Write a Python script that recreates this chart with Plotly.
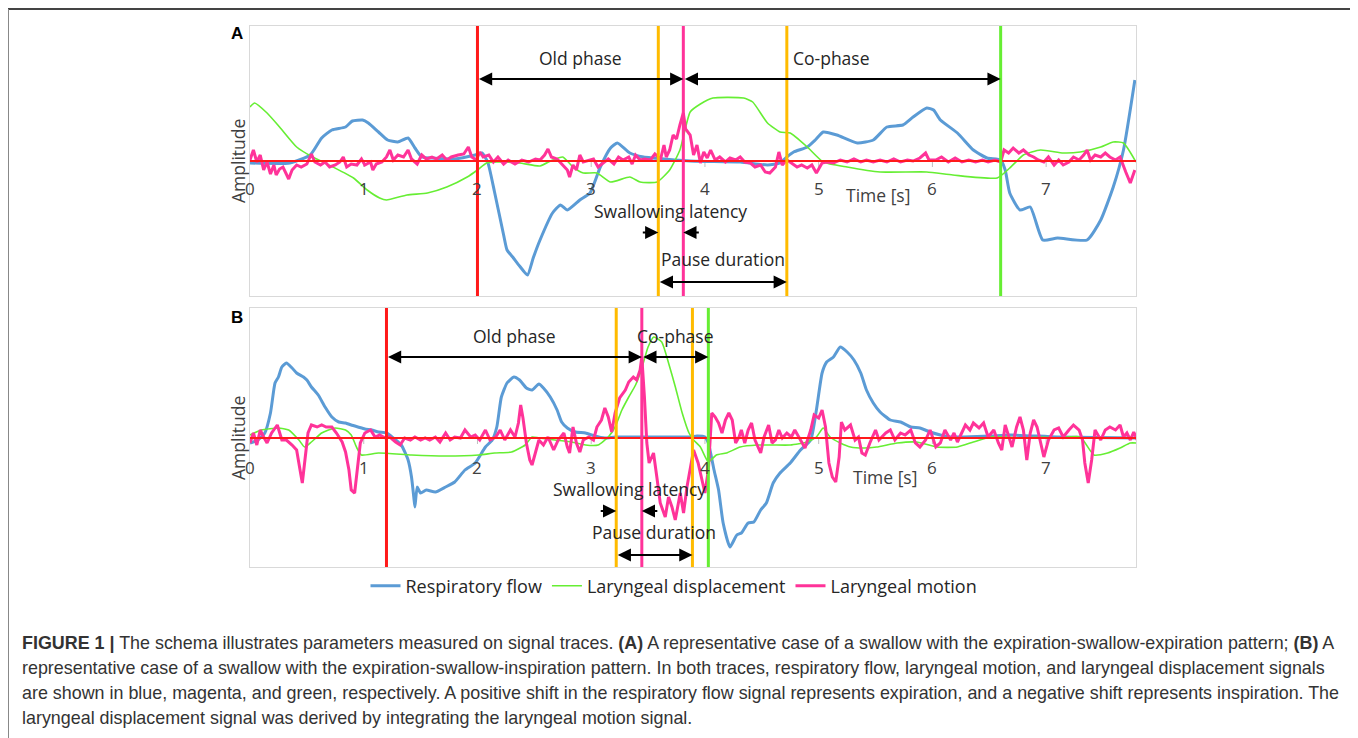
import plotly.graph_objects as go

# page body has an 8px margin, so the figure is 1350x730 placed at (8, 8)
OFF = 8
W, H = 1358 - OFF, 738 - OFF

# ---------------- DATA (time in s, amplitude in arbitrary units) ----------------
TICKS = [0, 1, 2, 3, 4, 5, 6, 7]

A_FLOW = [(0.00,-2),(0.35,-2),(0.53,6),(0.63,23),(0.72,31),(0.84,34),(0.90,40),(0.99,41),(1.04,38),
          (1.13,29),(1.21,21),(1.30,19),(1.39,23),(1.45,13),(1.51,4),(1.60,3),(1.80,2),(1.98,6),
          (2.04,8),(2.09,-1),(2.15,-31),(2.23,-74),(2.26,-89),(2.31,-96),(2.37,-105),(2.44,-114),
          (2.49,-97),(2.55,-79),(2.66,-52),(2.73,-44),(2.79,-49),(2.90,-39),(2.99,-32),(3.08,-6),
          (3.17,13),(3.23,18),(3.34,8),(3.46,4),(3.54,3),(3.87,0),(4.31,-1),(4.55,-4),(4.66,-2),
          (4.72,4),(4.78,9),(4.90,14),(4.97,21),(5.04,29),(5.16,26),(5.34,18),(5.48,21),(5.60,34),
          (5.74,36),(5.83,44),(5.95,53),(6.01,51),(6.07,41),(6.22,28),(6.36,11),(6.48,3),(6.60,1),
          (6.64,-9),(6.68,-32),(6.77,-49),(6.86,-46),(6.97,-79),(7.10,-77),(7.36,-79),(7.48,-59),
          (7.59,-26),(7.68,11),(7.78,81)]

A_DISP = [(0.00,54),(0.04,58),(0.15,48),(0.26,34),(0.41,14),(0.55,4),(0.73,-6),(0.91,-17),(1.03,-29),
          (1.14,-37),(1.20,-39),(1.38,-34),(1.56,-32),(1.73,-26),(1.91,-16),(2.00,-9),(2.08,-2),
          (2.17,-1),(2.37,-2),(2.55,-5),(2.66,1),(2.75,4),(2.84,-6),(2.93,-12),(3.05,-12),(3.17,-21),
          (3.34,-16),(3.43,-21),(3.58,-21),(3.69,-9),(3.78,11),(3.87,49),(3.96,57),(4.07,63),(4.34,63),
          (4.42,59),(4.55,38),(4.66,29),(4.75,28),(4.90,14),(5.04,-1),(5.25,-6),(5.54,-11),(5.95,-11),
          (6.18,-14),(6.57,-17),(6.68,-7),(6.80,6),(6.95,11),(7.15,8),(7.30,9),(7.48,14),(7.59,19),
          (7.68,18),(7.79,-1)]

A_MOTION = [(0.00,1),(0.03,11),(0.06,-1),(0.09,6),(0.12,-9),(0.15,-1),(0.18,-13),(0.21,-4),(0.23,-14),
            (0.26,-8),(0.29,-6),(0.34,-18),(0.37,-9),(0.41,-4),(0.45,-6),(0.50,-3),(0.54,7),(0.57,-1),
            (0.62,-4),(0.66,-1),(0.70,-6),(0.75,-4),(0.79,-1),(0.82,4),(0.85,-6),(0.89,-3),(0.94,-4),
            (0.98,2),(1.01,-4),(1.06,-1),(1.08,-9),(1.11,-3),(1.16,-1),(1.20,4),(1.23,11),(1.26,1),
            (1.30,6),(1.35,4),(1.39,11),(1.42,2),(1.47,-3),(1.51,6),(1.55,2),(1.60,4),(1.64,2),(1.69,6),
            (1.73,1),(1.77,4),(1.83,6),(1.88,7),(1.92,14),(1.95,4),(1.99,1),(2.02,9),(2.05,4),(2.10,6),
            (2.14,-1),(2.18,4),(2.23,-3),(2.27,1),(2.33,-3),(2.39,1),(2.45,-1),(2.51,2),(2.55,1),
            (2.59,6),(2.62,12),(2.65,4),(2.70,2),(2.74,-3),(2.79,-9),(2.81,-16),(2.84,-4),(2.87,-9),
            (2.90,6),(2.93,-1),(2.98,1),(3.02,2),(3.06,-6),(3.11,-1),(3.15,2),(3.20,-3),(3.24,4),
            (3.28,1),(3.33,4),(3.36,-3),(3.39,6),(3.43,1),(3.47,2),(3.52,1),(3.56,7),(3.61,2),(3.64,16),
            (3.66,4),(3.69,11),(3.72,26),(3.75,22),(3.78,36),(3.81,48),(3.83,32),(3.87,26),(3.90,6),
            (3.93,16),(3.96,-2),(3.99,9),(4.02,3),(4.05,11),(4.09,1),(4.13,4),(4.18,-1),(4.22,3),
            (4.27,1),(4.31,4),(4.35,-1),(4.40,-2),(4.44,-6),(4.49,-4),(4.53,-11),(4.57,-12),(4.62,-6),
            (4.65,9),(4.68,-4),(4.72,1),(4.76,-2),(4.81,-6),(4.85,-4),(4.90,-7),(4.94,-4),(4.98,-12),
            (5.03,-2),(5.07,-1),(5.13,-2),(5.19,1),(5.25,-1),(5.31,2),(5.37,-1),(5.42,1),(5.48,-1),
            (5.54,1),(5.60,-1),(5.66,2),(5.72,-1),(5.78,1),(5.83,0),(5.89,3),(5.94,8),(5.97,1),(6.03,1),
            (6.08,4),(6.14,-1),(6.20,3),(6.26,-1),(6.32,1),(6.38,-1),(6.44,1),(6.49,-1),(6.55,1),
            (6.60,-1),(6.63,11),(6.67,8),(6.71,13),(6.76,8),(6.80,11),(6.85,6),(6.89,4),(6.93,1),
            (6.98,-1),(7.02,4),(7.07,-4),(7.11,1),(7.15,-4),(7.20,-1),(7.24,4),(7.29,1),(7.33,6),
            (7.36,11),(7.39,1),(7.43,6),(7.48,4),(7.52,8),(7.56,4),(7.61,1),(7.65,4),(7.70,-11),
            (7.74,-22),(7.78,-9)]

B_FLOW = [(0.00,-5),(0.07,-2),(0.13,5),(0.18,25),(0.22,55),(0.25,61),(0.28,71),(0.32,75),(0.37,70),
          (0.41,65),(0.47,61),(0.50,58),(0.54,51),(0.60,43),(0.66,31),(0.72,21),(0.78,16),(0.84,15),
          (0.89,13),(0.95,11),(1.01,9),(1.07,8),(1.13,6),(1.20,5),(1.26,0),(1.33,-7),(1.39,-22),
          (1.42,-39),(1.44,-59),(1.45,-69),(1.47,-49),(1.50,-55),(1.55,-52),(1.63,-54),(1.72,-49),
          (1.80,-44),(1.89,-32),(1.98,-25),(2.07,-9),(2.13,-2),(2.17,11),(2.21,41),(2.26,55),
          (2.32,61),(2.37,58),(2.43,50),(2.48,48),(2.54,54),(2.58,50),(2.64,41),(2.70,28),(2.74,16),
          (2.79,10),(2.86,6),(2.95,5),(3.03,2),(3.12,0),(3.21,1),(3.50,1),(3.87,1),(3.93,2),(4.00,1),
          (4.03,-5),(4.08,-32),(4.12,-52),(4.16,-85),(4.22,-109),(4.28,-97),(4.32,-95),(4.38,-85),
          (4.43,-84),(4.49,-72),(4.54,-65),(4.60,-45),(4.66,-35),(4.75,-25),(4.84,-12),(4.93,-2),
          (4.98,28),(5.03,65),(5.07,76),(5.13,81),(5.19,91),(5.25,86),(5.31,78),(5.37,65),(5.42,48),
          (5.48,35),(5.54,26),(5.63,18),(5.72,16),(5.81,11),(5.89,10),(5.98,6),(6.07,3),(6.16,1),
          (6.27,1),(6.51,2),(6.69,3),(7.10,1),(7.79,0)]

B_DISP = [(0.00,3),(0.10,8),(0.25,10),(0.34,8),(0.43,-2),(0.48,-9),(0.54,-4),(0.63,5),(0.69,8),
          (0.75,10),(0.84,8),(0.89,3),(0.94,-10),(0.98,-17),(1.13,-15),(1.42,-17),(1.72,-18),
          (2.01,-17),(2.15,-15),(2.30,-14),(2.42,-7),(2.48,1),(2.54,0),(2.68,-2),(2.83,-4),(2.95,-7),
          (3.06,-7),(3.15,1),(3.21,11),(3.27,28),(3.33,41),(3.39,53),(3.44,68),(3.50,91),(3.55,101),
          (3.62,96),(3.68,75),(3.74,51),(3.80,25),(3.86,5),(3.90,-2),(3.96,-9),(4.03,-24),(4.10,-17),
          (4.19,-15),(4.31,-9),(4.46,-7),(4.60,-7),(4.75,-7),(4.90,-4),(4.98,1),(5.04,10),(5.10,1),
          (5.19,-5),(5.28,-9),(5.40,-10),(5.51,-9),(5.69,-5),(5.86,-4),(6.04,-9),(6.22,-9),(6.36,-4),
          (6.51,1),(6.66,1),(6.80,0),(6.95,1),(7.10,0),(7.30,1),(7.42,-17),(7.54,-15),(7.65,-10),
          (7.74,-5),(7.80,-5)]

B_MOTION = [(0.00,-5),(0.03,5),(0.06,-7),(0.09,8),(0.12,1),(0.15,-5),(0.19,5),(0.24,13),(0.28,-2),
            (0.32,-2),(0.37,-7),(0.41,-12),(0.44,-32),(0.46,-45),(0.48,-25),(0.51,5),(0.54,13),
            (0.59,11),(0.63,13),(0.67,11),(0.72,11),(0.76,5),(0.81,-4),(0.84,-14),(0.87,-32),
            (0.89,-52),(0.92,-55),(0.94,-35),(0.97,-5),(1.01,5),(1.06,8),(1.10,1),(1.14,3),(1.19,0),
            (1.23,1),(1.28,-4),(1.32,-7),(1.36,0),(1.41,-2),(1.45,1),(1.50,-2),(1.54,0),(1.58,-2),
            (1.63,1),(1.67,-4),(1.72,5),(1.76,-2),(1.80,1),(1.85,0),(1.89,8),(1.94,1),(1.98,3),
            (2.02,-2),(2.07,8),(2.11,-2),(2.16,1),(2.20,8),(2.24,-2),(2.29,8),(2.33,1),(2.36,15),
            (2.38,33),(2.40,20),(2.43,-5),(2.46,-22),(2.48,-27),(2.51,-15),(2.54,-2),(2.58,-7),
            (2.62,1),(2.67,-12),(2.71,-2),(2.76,5),(2.79,-9),(2.81,-15),(2.84,11),(2.87,-5),(2.90,-14),
            (2.93,-2),(2.98,1),(3.02,-2),(3.05,11),(3.09,18),(3.12,30),(3.15,21),(3.18,6),(3.21,25),
            (3.25,40),(3.30,48),(3.33,56),(3.37,61),(3.40,58),(3.43,68),(3.445,81),(3.468,41),
            (3.489,-5),(3.509,-25),(3.533,-18),(3.548,-15),(3.577,-39),(3.607,-65),(3.651,-79),
            (3.680,-59),(3.710,-69),(3.739,-82),(3.783,-55),(3.812,-75),(3.842,-49),(3.871,-29),
            (3.90,-12),(3.94,-25),(3.97,-39),(4.00,-55),(4.03,-32),(4.06,25),(4.09,21),(4.12,15),
            (4.15,5),(4.18,18),(4.21,25),(4.24,18),(4.27,-5),(4.30,1),(4.32,8),(4.35,-5),(4.38,8),
            (4.41,15),(4.44,-2),(4.49,-15),(4.52,1),(4.56,13),(4.59,-5),(4.62,-2),(4.65,8),(4.68,0),
            (4.72,5),(4.76,1),(4.79,8),(4.84,-2),(4.88,-10),(4.93,8),(4.96,23),(5.00,20),(5.03,28),
            (5.06,11),(5.09,-25),(5.12,-39),(5.15,-44),(5.18,-19),(5.20,16),(5.23,8),(5.28,13),
            (5.32,-2),(5.35,1),(5.38,-15),(5.41,-17),(5.45,-5),(5.50,8),(5.53,-2),(5.59,5),(5.63,8),
            (5.67,-2),(5.72,5),(5.76,3),(5.81,8),(5.85,-5),(5.89,-9),(5.94,-2),(5.98,8),(6.03,-9),
            (6.07,-5),(6.11,8),(6.16,-2),(6.19,5),(6.22,-4),(6.26,6),(6.29,13),(6.33,8),(6.36,15),
            (6.41,10),(6.45,15),(6.49,1),(6.54,8),(6.58,-5),(6.61,-12),(6.64,13),(6.67,1),(6.70,-9),
            (6.74,11),(6.77,21),(6.80,8),(6.83,-22),(6.86,5),(6.89,18),(6.92,11),(6.95,-5),(6.98,-19),
            (7.02,-2),(7.07,8),(7.11,10),(7.15,1),(7.20,8),(7.24,13),(7.29,8),(7.32,-2),(7.34,-25),
            (7.37,-45),(7.40,-22),(7.43,8),(7.48,-2),(7.52,8),(7.56,11),(7.61,8),(7.65,13),(7.68,1),
            (7.71,5),(7.74,-2),(7.77,6),(7.80,-2)]

# event times (s): onset of old phase, swallow (orange), peak motion (magenta), end pause (orange), end co-phase
A_EVENTS = [2.00, 3.59, 3.81, 4.72, 6.60]
B_EVENTS = [1.20, 3.22, 3.445, 3.89, 4.03]

SERIES_NAMES = ["Respiratory flow", "Laryngeal displacement", "Laryngeal motion"]
CAPTION = [
    "<b>FIGURE 1 |</b> The schema illustrates parameters measured on signal traces. <b>(A)</b> A representative case of a swallow with the expiration-swallow-expiration pattern; <b>(B)</b> A",
    "representative case of a swallow with the expiration-swallow-inspiration pattern. In both traces, respiratory flow, laryngeal motion, and laryngeal displacement signals",
    "are shown in blue, magenta, and green, respectively. A positive shift in the respiratory flow signal represents expiration, and a negative shift represents inspiration. The",
    "laryngeal displacement signal was derived by integrating the laryngeal motion signal.",
]

# ---------------- STYLE ----------------
BLUE, GREEN, PINK, RED, ORANGE = "#5b9bd5", "#66ee33", "#ff3399", "#ff1a1a", "#ffbb00"
EVENT_COLORS = [RED, ORANGE, PINK, ORANGE, GREEN]
TXT = "#262626"
FONT = "Open Sans"

def px(x):
    return (x - OFF) / W

def py(y):
    return 1 - (y - OFF) / H

fig = go.Figure()

def add_panel(flow, disp, motion, xa, ya, legend):
    for data, color, width, name, shape in [
        (flow, BLUE, 3, SERIES_NAMES[0], "spline"),
        (disp, GREEN, 1.6, SERIES_NAMES[1], "spline"),
        (motion, PINK, 3, SERIES_NAMES[2], "linear"),
    ]:
        t = [p[0] for p in data]
        a = [p[1] for p in data]
        fig.add_trace(go.Scatter(x=t, y=a, mode="lines", name=name, xaxis=xa, yaxis=ya,
                                 line=dict(color=color, width=width, shape=shape, smoothing=0.5),
                                 showlegend=legend, hoverinfo="skip"))

add_panel(A_FLOW, A_DISP, A_MOTION, "x", "y", True)
add_panel(B_FLOW, B_DISP, B_MOTION, "x2", "y2", False)

axis_common = dict(showgrid=False, zeroline=False, showticklabels=False, ticks="",
                   showline=True, mirror=True, linecolor="#d9d9d9", linewidth=1)
fig.update_layout(
    width=W, height=H, margin=dict(l=0, r=0, t=0, b=0),
    paper_bgcolor="white", plot_bgcolor="white",
    xaxis=dict(domain=[px(250), px(1136)], range=[0, 7.79], anchor="y", **axis_common),
    yaxis=dict(domain=[py(296), py(26)], range=[-135, 135], anchor="x", **axis_common),
    xaxis2=dict(domain=[px(250), px(1136)], range=[0, 7.79], anchor="y2", **axis_common),
    yaxis2=dict(domain=[py(567), py(308)], range=[-129, 130], anchor="x2", **axis_common),
    showlegend=True,
    legend=dict(orientation="h", x=px(674), xanchor="center", y=py(586), yanchor="middle",
                font=dict(family=FONT, size=18, color=TXT), bgcolor="rgba(0,0,0,0)",
                itemwidth=30, tracegroupgap=0),
)

shapes = []
annotations = []

for xa, ya, events, tshift, timepos in [("x", "y", A_EVENTS, -27, (878, -34)),
                                        ("x2", "y2", B_EVENTS, -29, (885, -39))]:
    # small gray tick marks on the zero axis (below the traces)
    for k in TICKS[1:]:
        shapes.append(dict(type="line", xref=xa, yref=ya, x0=k, x1=k, ysizemode="pixel", yanchor=0,
                           y0=0, y1=-6, line=dict(color="#bfbfbf", width=1), layer="below"))
    # zero line
    shapes.append(dict(type="line", xref=f"{xa} domain", yref=ya, x0=0, x1=1, y0=0, y1=0,
                       line=dict(color=RED, width=2), layer="above"))
    # event lines
    for t, c in zip(events, EVENT_COLORS):
        shapes.append(dict(type="line", xref=xa, yref=f"{ya} domain", x0=t, x1=t, y0=0, y1=1,
                           line=dict(color=c, width=3), layer="above"))
    # tick labels on the zero line
    for k in TICKS:
        annotations.append(dict(xref=xa, yref=ya, x=k, y=0, yshift=tshift, text=str(k),
                                showarrow=False, font=dict(family=FONT, size=17, color="#404040")))
    annotations.append(dict(xref="paper", yref=ya, x=px(timepos[0]), y=0, yshift=timepos[1],
                            xanchor="center", text="Time [s]", showarrow=False,
                            font=dict(family=FONT, size=17.5, color="#404040")))
    annotations.append(dict(xref="paper", yref=ya, x=px(238), y=0, xanchor="center", yanchor="middle",
                            text="Amplitude", textangle=-90, showarrow=False,
                            font=dict(family=FONT, size=17.5, color="#404040")))

def darrow(xa, ya, t0, t1, yv):
    annotations.append(dict(xref=xa, yref=ya, x=t1, y=yv, axref=xa, ayref=ya, ax=t0, ay=yv, text="",
                            showarrow=True, arrowside="end+start", arrowhead=2, startarrowhead=2,
                            arrowsize=1.2, startarrowsize=1.2, arrowwidth=2.2, arrowcolor="black",
                            standoff=0, startstandoff=0))

def sarrow(xa, ya, t, yv, dx):
    annotations.append(dict(xref=xa, yref=ya, x=t, y=yv, ax=dx, ay=0, text="", showarrow=True,
                            arrowhead=2, arrowsize=1.2, arrowwidth=2.2, arrowcolor="black", standoff=0))

def label(xa, ya, t, yv, text, dy, dx=0):
    annotations.append(dict(xref=xa, yref=ya, x=t, y=yv, yshift=dy, xshift=dx, text=text,
                            showarrow=False, font=dict(family=FONT, size=17.5, color=TXT)))

for xa, ya, ev, yph, ylat, ypau, cox in [("x", "y", A_EVENTS, 82, -71.5, -121, -10),
                                         ("x2", "y2", B_EVENTS, 81, -73, -117, 0)]:
    r, o1, m, o2, g = ev
    darrow(xa, ya, r, m, yph)
    darrow(xa, ya, m, g, yph)
    label(xa, ya, (r + m) / 2, yph, "Old phase", 21)
    label(xa, ya, (m + g) / 2, yph, "Co-phase", 21, cox)
    sarrow(xa, ya, o1, ylat, -17)
    sarrow(xa, ya, m, ylat, 17)
    label(xa, ya, (o1 + m) / 2, ylat, "Swallowing latency", 22)
    darrow(xa, ya, o1, o2, ypau)
    label(xa, ya, (o1 + o2) / 2, ypau, "Pause duration", 23)

# panel letters
for letter, y in [("A", 33), ("B", 317)]:
    annotations.append(dict(xref="paper", yref="paper", x=px(237), y=py(y), xanchor="center",
                            yanchor="middle", text=f"<b>{letter}</b>", showarrow=False,
                            font=dict(family="Liberation Sans", size=17, color="black")))

# caption
for i, line in enumerate(CAPTION):
    annotations.append(dict(xref="paper", yref="paper", x=px(20), y=py(643 + 25 * i), xanchor="left",
                            yanchor="middle", text=line, showarrow=False,
                            font=dict(family="Liberation Sans", size=17.9, color="#333333")))

# outer frame
shapes.append(dict(type="line", xref="paper", yref="paper", x0=px(8), x1=px(1352), y0=py(9), y1=py(9),
                   line=dict(color="#444444", width=2)))
for xx in (8.5, 1351.5):
    shapes.append(dict(type="line", xref="paper", yref="paper", x0=px(xx), x1=px(xx), y0=py(9), y1=0,
                       line=dict(color="#888888", width=1)))

fig.update_layout(shapes=shapes, annotations=annotations)
fig.write_html("out.html")
